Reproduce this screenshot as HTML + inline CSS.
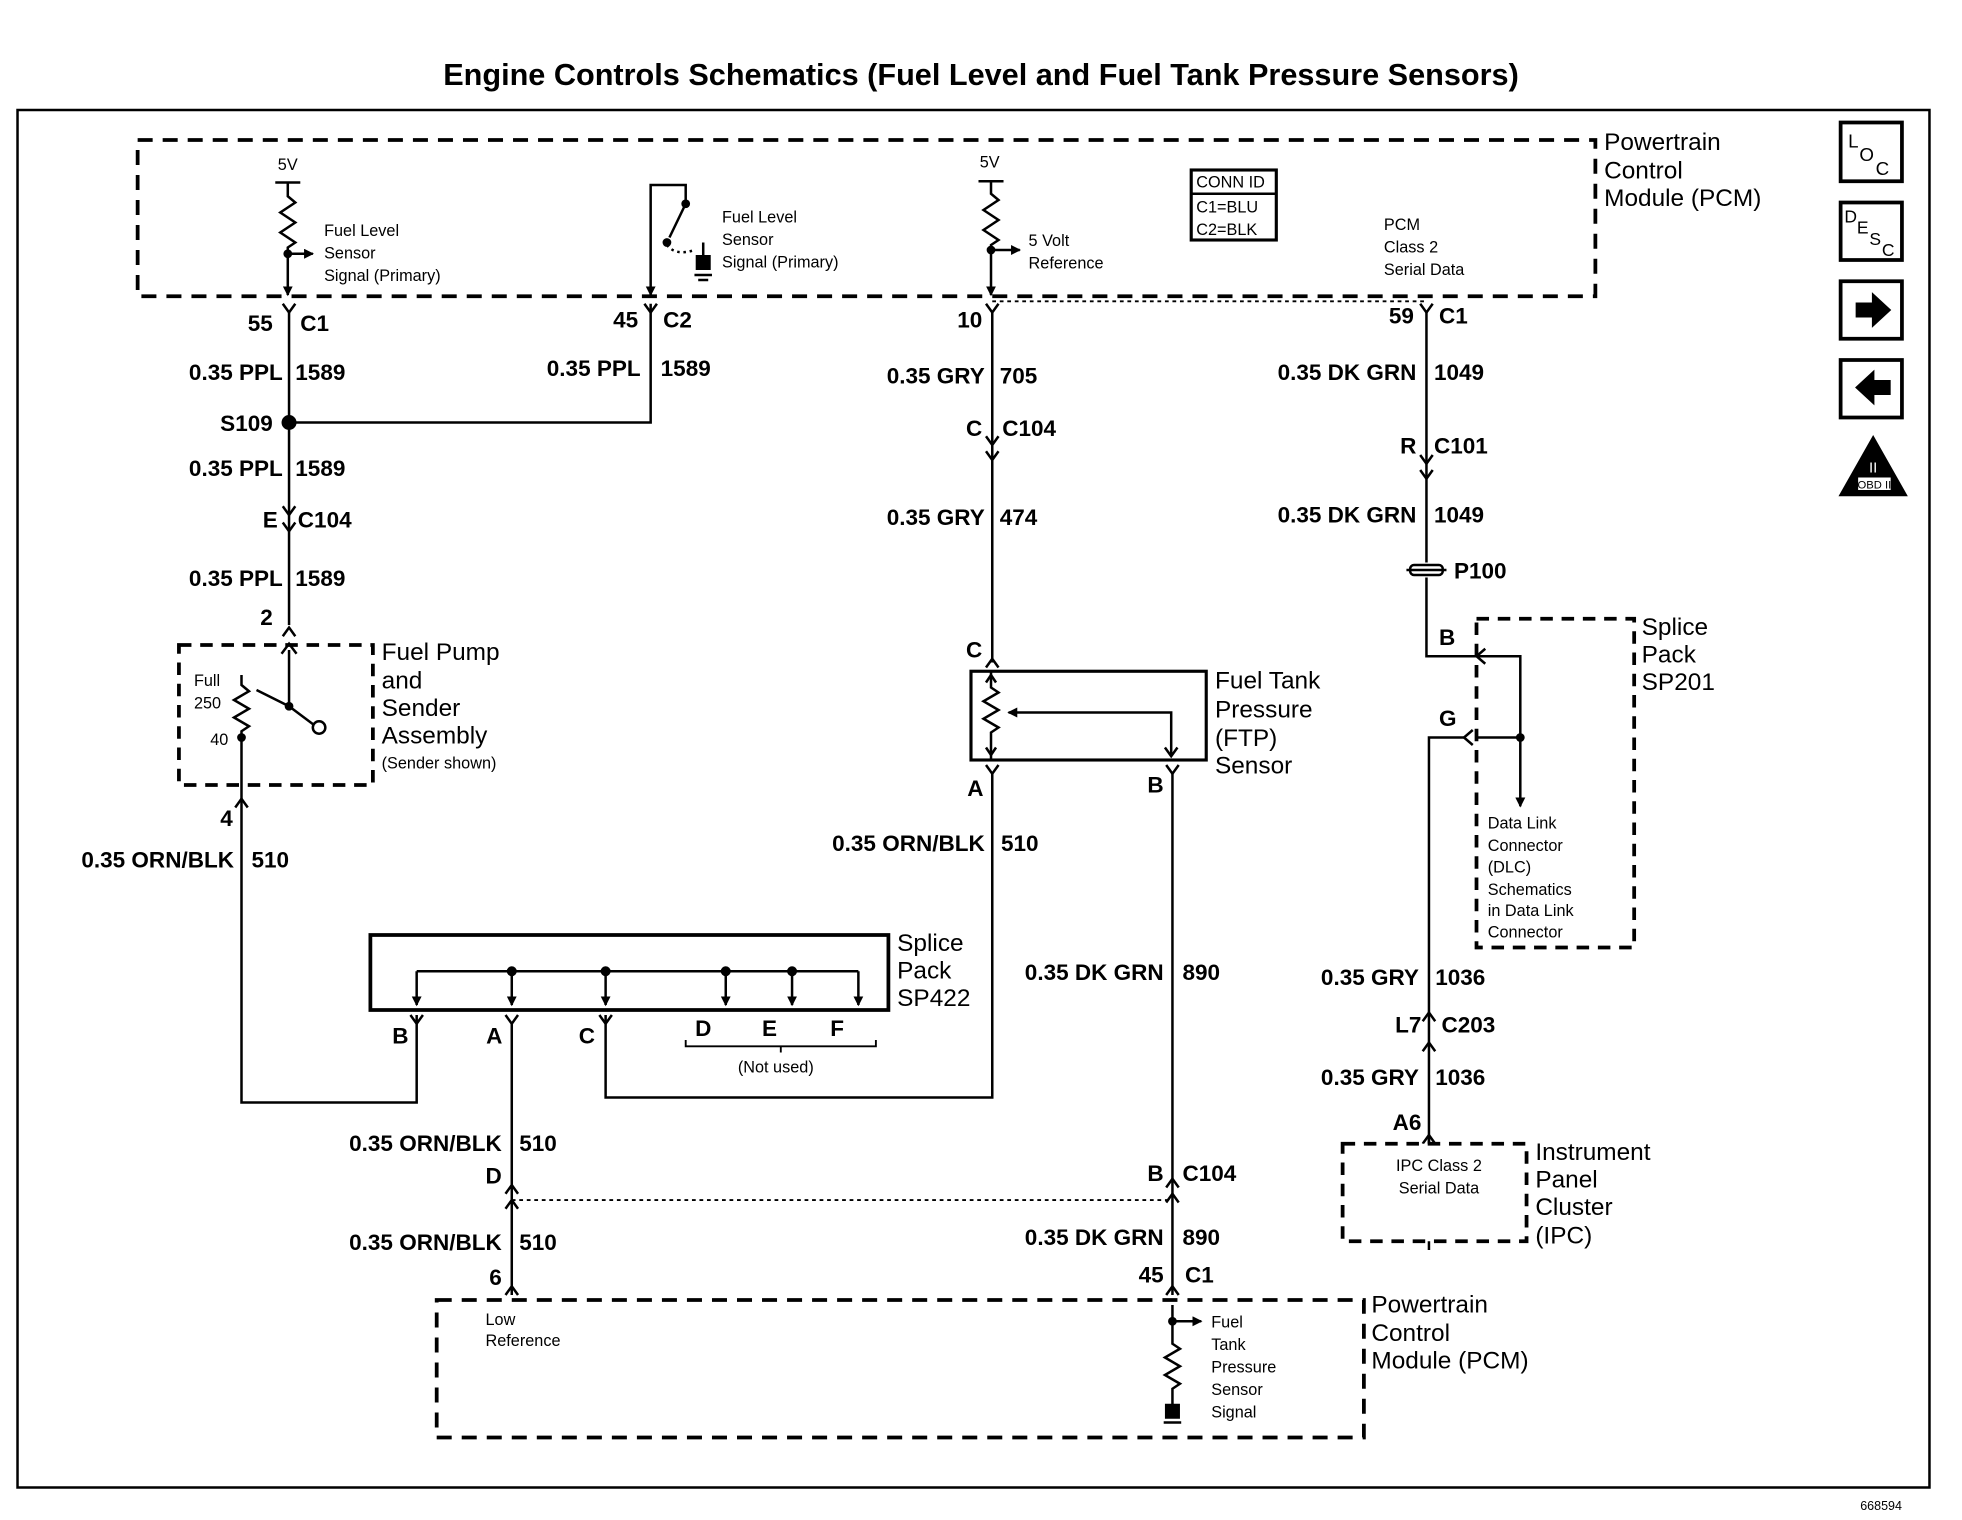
<!DOCTYPE html>
<html><head><meta charset="utf-8"><style>
html,body{margin:0;padding:0;background:#fff;}
svg{display:block;}
text{font-family:"Liberation Sans",Arial,sans-serif;fill:#000;}
.w{font-size:18px;font-weight:bold;}
.s{font-size:13px;}
.l{font-size:19.5px;}
</style></head><body>
<svg width="1962" height="1520" viewBox="0 0 1568 1216" preserveAspectRatio="none" xmlns="http://www.w3.org/2000/svg">
<defs>
<marker id="ah" markerWidth="8" markerHeight="8" refX="7" refY="4" orient="auto" markerUnits="userSpaceOnUse"><path d="M0,0 L8,4 L0,8 z" fill="#000"/></marker>
</defs>
<g stroke="#000" fill="none" stroke-width="2">
<text x="784" y="68" text-anchor="middle" font-size="24.5" font-weight="bold" stroke="none">Engine Controls Schematics (Fuel Level and Fuel Tank Pressure Sensors)</text>
<rect x="14" y="88" width="1528" height="1102" stroke-width="2"/>
<text x="1520" y="1208" font-size="10" stroke="none" text-anchor="end">668594</text>

<!-- top PCM -->
<rect x="110" y="112" width="1165" height="125" stroke-dasharray="12,8" stroke-width="3"/>
<text class="l" x="1282" y="120" stroke="none">Powertrain</text>
<text class="l" x="1282" y="143" stroke="none">Control</text>
<text class="l" x="1282" y="165" stroke="none">Module (PCM)</text>

<!-- 5V fuel level -->
<text class="s" x="222" y="136" stroke="none">5V</text>
<line x1="220" y1="146" x2="240" y2="146"/>
<path d="M230,146 V157 l6,5 l-12,8 l12,8 l-12,8 l12,8 l-6,4 V236" marker-end="url(#ah)"/>
<line x1="230" y1="203" x2="250" y2="203" marker-end="url(#ah)"/>
<circle cx="230" cy="203" r="2.5" fill="#000"/>
<text class="s" x="259" y="189" stroke="none">Fuel Level</text>
<text class="s" x="259" y="207" stroke="none">Sensor</text>
<text class="s" x="259" y="225" stroke="none">Signal (Primary)</text>

<!-- switch -->
<path d="M548,163 V148 H520 V236" marker-end="url(#ah)"/>
<line x1="548" y1="163" x2="535" y2="190"/>
<circle cx="548" cy="163" r="2.5" fill="#000"/>
<circle cx="533" cy="194" r="2.5" fill="#000"/>
<path d="M533,196 Q540,205 555,200" stroke-dasharray="2,3"/>
<line x1="562" y1="194" x2="562" y2="215"/>
<rect x="557" y="205" width="10" height="10" fill="#000"/>
<line x1="555" y1="220" x2="569" y2="220"/><line x1="558" y1="224" x2="566" y2="224"/>
<text class="s" x="577" y="178" stroke="none">Fuel Level</text>
<text class="s" x="577" y="196" stroke="none">Sensor</text>
<text class="s" x="577" y="214" stroke="none">Signal (Primary)</text>

<!-- 5V reference -->
<text class="s" x="783" y="134" stroke="none">5V</text>
<line x1="782" y1="145" x2="802" y2="145"/>
<path d="M792,145 V155 l6,5 l-12,8 l12,8 l-12,8 l12,8 l-6,4 V236" marker-end="url(#ah)"/>
<line x1="792" y1="200" x2="815" y2="200" marker-end="url(#ah)"/>
<circle cx="792" cy="200" r="2.5" fill="#000"/>
<text class="s" x="822" y="197" stroke="none">5 Volt</text>
<text class="s" x="822" y="215" stroke="none">Reference</text>

<rect x="952" y="136" width="68" height="56" stroke-width="2.5"/>
<line x1="952" y1="155" x2="1020" y2="155"/>
<text class="s" x="956" y="150" stroke="none">CONN ID</text>
<text class="s" x="956" y="170" stroke="none">C1=BLU</text>
<text class="s" x="956" y="188" stroke="none">C2=BLK</text>
<text class="s" x="1106" y="184" stroke="none">PCM</text>
<text class="s" x="1106" y="202" stroke="none">Class 2</text>
<text class="s" x="1106" y="220" stroke="none">Serial Data</text>

<!-- left wire -->
<path d="M226,243 L231,250 L236,243"/>
<line x1="231" y1="250" x2="231" y2="500"/>
<text class="w" x="218" y="265" text-anchor="end" stroke="none">55</text>
<text class="w" x="240" y="265" stroke="none">C1</text>
<text class="w" x="226" y="304" text-anchor="end" stroke="none">0.35 PPL</text>
<text class="w" x="236" y="304" stroke="none">1589</text>
<circle cx="231" cy="338" r="5" fill="#000"/>
<path d="M231,338 H520 V243"/>
<path d="M515,243 L520,250 L525,243"/>
<text class="w" x="510" y="262" text-anchor="end" stroke="none">45</text>
<text class="w" x="530" y="262" stroke="none">C2</text>
<text class="w" x="512" y="301" text-anchor="end" stroke="none">0.35 PPL</text>
<text class="w" x="528" y="301" stroke="none">1589</text>
<text class="w" x="218" y="345" text-anchor="end" stroke="none">S109</text>
<text class="w" x="226" y="381" text-anchor="end" stroke="none">0.35 PPL</text>
<text class="w" x="236" y="381" stroke="none">1589</text>
<path d="M226,405 L231,412 L236,405 M226,418 L231,425 L236,418"/>
<text class="w" x="222" y="422" text-anchor="end" stroke="none">E</text>
<text class="w" x="238" y="422" stroke="none">C104</text>
<text class="w" x="226" y="469" text-anchor="end" stroke="none">0.35 PPL</text>
<text class="w" x="236" y="469" stroke="none">1589</text>
<text class="w" x="218" y="500" text-anchor="end" stroke="none">2</text>
<path d="M226,509 L231,502 L236,509"/>

<!-- fuel pump -->
<rect x="143" y="516" width="155" height="112" stroke-dasharray="10,7" stroke-width="3"/>
<text class="l" x="305" y="528" stroke="none">Fuel Pump</text>
<text class="l" x="305" y="551" stroke="none">and</text>
<text class="l" x="305" y="573" stroke="none">Sender</text>
<text class="l" x="305" y="595" stroke="none">Assembly</text>
<text class="s" x="305" y="615" stroke="none">(Sender shown)</text>
<text class="s" x="155" y="549" stroke="none">Full</text>
<text class="s" x="155" y="567" stroke="none">250</text>
<text class="s" x="168" y="596" stroke="none">40</text>
<line x1="231" y1="520" x2="231" y2="565"/>
<path d="M225,523 L231,515 L237,523"/>
<line x1="231" y1="565" x2="251" y2="580"/>
<line x1="205" y1="552" x2="231" y2="565"/>
<circle cx="231" cy="565" r="2.5" fill="#000"/>
<circle cx="255" cy="582" r="5" fill="#fff"/>
<path d="M193,540 V548 l6,5 l-12,7 l12,7 l-12,7 l12,7 l-6,4 V640"/>
<circle cx="193" cy="590" r="2.5" fill="#000"/>
<path d="M188,646 L193,639 L198,646"/>
<text class="w" x="186" y="661" text-anchor="end" stroke="none">4</text>
<path d="M193,640 V882 H333 V812"/>
<text class="w" x="187" y="694" text-anchor="end" stroke="none">0.35 ORN/BLK</text>
<text class="w" x="201" y="694" stroke="none">510</text>

<!-- middle wire -->
<path d="M788,243 L793,250 L798,243"/>
<line x1="793" y1="250" x2="793" y2="530"/>
<line x1="793" y1="241" x2="1140" y2="241" stroke-dasharray="3,3" stroke-width="1.5"/>
<text class="w" x="785" y="262" text-anchor="end" stroke="none">10</text>
<text class="w" x="787" y="307" text-anchor="end" stroke="none">0.35 GRY</text>
<text class="w" x="799" y="307" stroke="none">705</text>
<path d="M788,349 L793,356 L798,349 M788,361 L793,368 L798,361"/>
<text class="w" x="785" y="349" text-anchor="end" stroke="none">C</text>
<text class="w" x="801" y="349" stroke="none">C104</text>
<text class="w" x="787" y="420" text-anchor="end" stroke="none">0.35 GRY</text>
<text class="w" x="799" y="420" stroke="none">474</text>
<text class="w" x="785" y="526" text-anchor="end" stroke="none">C</text>
<path d="M788,534 L793,527 L798,534"/>
<rect x="776" y="537" width="188" height="71" stroke-width="2.5"/>
<path d="M792,537 V550 l6,4 l-12,7 l12,7 l-12,7 l12,7 l-6,4 V608"/>
<path d="M788,546 L792,540 L796,546 M788,598 L792,604 L796,598"/>
<path d="M936,605 V570 H806" marker-end="url(#ah)"/>
<path d="M931,598 L936,605 L941,598"/>
<text class="l" x="971" y="551" stroke="none">Fuel Tank</text>
<text class="l" x="971" y="574" stroke="none">Pressure</text>
<text class="l" x="971" y="597" stroke="none">(FTP)</text>
<text class="l" x="971" y="619" stroke="none">Sensor</text>
<text class="w" x="786" y="637" text-anchor="end" stroke="none">A</text>
<text class="w" x="930" y="634" text-anchor="end" stroke="none">B</text>
<path d="M788,612 L793,619 L798,612 M932,612 L937,619 L942,612"/>
<path d="M793,619 V878 H484 V812"/>
<text class="w" x="787" y="681" text-anchor="end" stroke="none">0.35 ORN/BLK</text>
<text class="w" x="800" y="681" stroke="none">510</text>
<line x1="937" y1="619" x2="937" y2="1036"/>
<text class="w" x="930" y="784" text-anchor="end" stroke="none">0.35 DK GRN</text>
<text class="w" x="945" y="784" stroke="none">890</text>

<!-- SP422 -->
<rect x="296" y="748" width="414" height="60" stroke-width="3"/>
<line x1="333" y1="777" x2="686" y2="777"/>
<g>
<line x1="333" y1="777" x2="333" y2="804" marker-end="url(#ah)"/>
<line x1="409" y1="777" x2="409" y2="804" marker-end="url(#ah)"/>
<line x1="484" y1="777" x2="484" y2="804" marker-end="url(#ah)"/>
<line x1="580" y1="777" x2="580" y2="804" marker-end="url(#ah)"/>
<line x1="633" y1="777" x2="633" y2="804" marker-end="url(#ah)"/>
<line x1="686" y1="777" x2="686" y2="804" marker-end="url(#ah)"/>
</g>
<circle cx="409" cy="777" r="3" fill="#000"/><circle cx="484" cy="777" r="3" fill="#000"/>
<circle cx="580" cy="777" r="3" fill="#000"/><circle cx="633" cy="777" r="3" fill="#000"/>
<text class="l" x="717" y="761" stroke="none">Splice</text>
<text class="l" x="717" y="783" stroke="none">Pack</text>
<text class="l" x="717" y="805" stroke="none">SP422</text>
<path d="M328,812 L333,819 L338,812 M404,812 L409,819 L414,812 M479,812 L484,819 L489,812"/>
<text class="w" x="320" y="835" text-anchor="middle" stroke="none">B</text>
<text class="w" x="395" y="835" text-anchor="middle" stroke="none">A</text>
<text class="w" x="469" y="835" text-anchor="middle" stroke="none">C</text>
<text class="w" x="562" y="829" text-anchor="middle" stroke="none">D</text>
<text class="w" x="615" y="829" text-anchor="middle" stroke="none">E</text>
<text class="w" x="669" y="829" text-anchor="middle" stroke="none">F</text>
<path d="M548,832 V837 H700 V832 M624,837 V842" stroke-width="1.5"/>
<text class="s" x="620" y="858" text-anchor="middle" stroke="none">(Not used)</text>

<line x1="409" y1="819" x2="409" y2="1036"/>
<text class="w" x="401" y="921" text-anchor="end" stroke="none">0.35 ORN/BLK</text>
<text class="w" x="415" y="921" stroke="none">510</text>
<text class="w" x="401" y="947" text-anchor="end" stroke="none">D</text>
<path d="M404,955 L409,948 L414,955 M404,967 L409,960 L414,967"/>
<line x1="409" y1="960" x2="937" y2="960" stroke-dasharray="3,3" stroke-width="1.5"/>
<text class="w" x="930" y="945" text-anchor="end" stroke="none">B</text>
<text class="w" x="945" y="945" stroke="none">C104</text>
<path d="M932,950 L937,943 L942,950 M932,962 L937,955 L942,962"/>
<text class="w" x="401" y="1000" text-anchor="end" stroke="none">0.35 ORN/BLK</text>
<text class="w" x="415" y="1000" stroke="none">510</text>
<text class="w" x="930" y="996" text-anchor="end" stroke="none">0.35 DK GRN</text>
<text class="w" x="945" y="996" stroke="none">890</text>
<text class="w" x="401" y="1028" text-anchor="end" stroke="none">6</text>
<text class="w" x="930" y="1026" text-anchor="end" stroke="none">45</text>
<text class="w" x="947" y="1026" stroke="none">C1</text>
<path d="M404,1036 L409,1029 L414,1036 M932,1036 L937,1029 L942,1036"/>

<!-- bottom PCM -->
<rect x="349" y="1040" width="741" height="110" stroke-dasharray="12,8" stroke-width="3"/>
<text class="s" x="388" y="1060" stroke="none">Low</text>
<text class="s" x="388" y="1077" stroke="none">Reference</text>
<path d="M937,1044 V1075 l6,4 l-12,7 l12,7 l-12,7 l12,7 l-6,4 V1128"/>
<line x1="937" y1="1057" x2="960" y2="1057" marker-end="url(#ah)"/>
<circle cx="937" cy="1057" r="2.5" fill="#000"/>
<rect x="932" y="1124" width="10" height="10" fill="#000"/>
<line x1="930" y1="1138" x2="944" y2="1138"/>
<text class="s" x="968" y="1062" stroke="none">Fuel</text>
<text class="s" x="968" y="1080" stroke="none">Tank</text>
<text class="s" x="968" y="1098" stroke="none">Pressure</text>
<text class="s" x="968" y="1116" stroke="none">Sensor</text>
<text class="s" x="968" y="1134" stroke="none">Signal</text>
<text class="l" x="1096" y="1050" stroke="none">Powertrain</text>
<text class="l" x="1096" y="1073" stroke="none">Control</text>
<text class="l" x="1096" y="1095" stroke="none">Module (PCM)</text>

<!-- right wire -->
<path d="M1135,243 L1140,250 L1145,243"/>
<path d="M1140,250 V450 M1140,462 V525 H1180"/>
<text class="w" x="1130" y="259" text-anchor="end" stroke="none">59</text>
<text class="w" x="1150" y="259" stroke="none">C1</text>
<text class="w" x="1132" y="304" text-anchor="end" stroke="none">0.35 DK GRN</text>
<text class="w" x="1146" y="304" stroke="none">1049</text>
<path d="M1135,364 L1140,371 L1145,364 M1135,376 L1140,383 L1145,376"/>
<text class="w" x="1132" y="363" text-anchor="end" stroke="none">R</text>
<text class="w" x="1146" y="363" stroke="none">C101</text>
<text class="w" x="1132" y="418" text-anchor="end" stroke="none">0.35 DK GRN</text>
<text class="w" x="1146" y="418" stroke="none">1049</text>
<rect x="1127" y="452" width="26" height="8" rx="3" stroke-width="2"/>
<line x1="1124" y1="456" x2="1156" y2="456"/>
<text class="w" x="1162" y="463" stroke="none">P100</text>
<text class="w" x="1150" y="516" text-anchor="start" stroke="none">B</text>
<path d="M1187,519 L1180,525 L1187,531"/>
<rect x="1180" y="495" width="126" height="263" stroke-dasharray="10,7" stroke-width="3"/>
<text class="l" x="1312" y="508" stroke="none">Splice</text>
<text class="l" x="1312" y="530" stroke="none">Pack</text>
<text class="l" x="1312" y="552" stroke="none">SP201</text>
<path d="M1180,525 H1215 V645" marker-end="url(#ah)"/>
<path d="M1180,590 H1215"/>
<circle cx="1215" cy="590" r="2.5" fill="#000"/>
<text class="w" x="1150" y="581" stroke="none">G</text>
<path d="M1177,584 L1170,590 L1177,596"/>
<path d="M1170,590 H1142 V1000"/>
<text class="s" x="1189" y="663" stroke="none">Data Link</text>
<text class="s" x="1189" y="681" stroke="none">Connector</text>
<text class="s" x="1189" y="698" stroke="none">(DLC)</text>
<text class="s" x="1189" y="716" stroke="none">Schematics</text>
<text class="s" x="1189" y="733" stroke="none">in Data Link</text>
<text class="s" x="1189" y="750" stroke="none">Connector</text>
<text class="w" x="1134" y="788" text-anchor="end" stroke="none">0.35 GRY</text>
<text class="w" x="1147" y="788" stroke="none">1036</text>
<text class="w" x="1136" y="826" text-anchor="end" stroke="none">L7</text>
<text class="w" x="1152" y="826" stroke="none">C203</text>
<path d="M1137,817 L1142,810 L1147,817 M1137,841 L1142,834 L1147,841"/>
<text class="w" x="1134" y="868" text-anchor="end" stroke="none">0.35 GRY</text>
<text class="w" x="1147" y="868" stroke="none">1036</text>
<text class="w" x="1136" y="904" text-anchor="end" stroke="none">A6</text>
<path d="M1137,915 L1142,908 L1147,915"/>
<line x1="1142" y1="908" x2="1142" y2="915"/>
<rect x="1073" y="915" width="147" height="78" stroke-dasharray="10,7" stroke-width="3" fill="#fff"/>
<text class="s" x="1150" y="937" text-anchor="middle" stroke="none">IPC Class 2</text>
<text class="s" x="1150" y="955" text-anchor="middle" stroke="none">Serial Data</text>
<text class="l" x="1227" y="928" stroke="none">Instrument</text>
<text class="l" x="1227" y="950" stroke="none">Panel</text>
<text class="l" x="1227" y="972" stroke="none">Cluster</text>
<text class="l" x="1227" y="995" stroke="none">(IPC)</text>

<!-- right icons -->
<rect x="1471" y="98" width="49" height="47" stroke-width="3"/>
<text x="1477" y="118" font-size="15" stroke="none">L</text>
<text x="1486" y="129" font-size="15" stroke="none">O</text>
<text x="1499" y="140" font-size="15" stroke="none">C</text>
<rect x="1471" y="162" width="49" height="46" stroke-width="3"/>
<text x="1474" y="178" font-size="14" stroke="none">D</text>
<text x="1484" y="187" font-size="14" stroke="none">E</text>
<text x="1494" y="196" font-size="14" stroke="none">S</text>
<text x="1504" y="205" font-size="14" stroke="none">C</text>
<rect x="1471" y="225" width="49" height="46" stroke-width="3"/>
<path d="M1484,243 H1497 V236 L1510,248 L1497,260 V253 H1484 z" fill="#000"/>
<rect x="1471" y="288" width="49" height="46" stroke-width="3"/>
<path d="M1510,305 H1497 V298 L1484,310 L1497,322 V315 H1510 z" fill="#000"/>
<path d="M1497,350 L1523,396 L1471,396 z" fill="#000"/>
<rect x="1485" y="382" width="26" height="10" fill="#fff" stroke="none"/>
<text x="1498" y="391" font-size="9" text-anchor="middle" stroke="none">OBD II</text>
<text x="1497" y="378" font-size="12" text-anchor="middle" stroke="none" style="fill:#fff">II</text>
</g>
</svg>
</body></html>
